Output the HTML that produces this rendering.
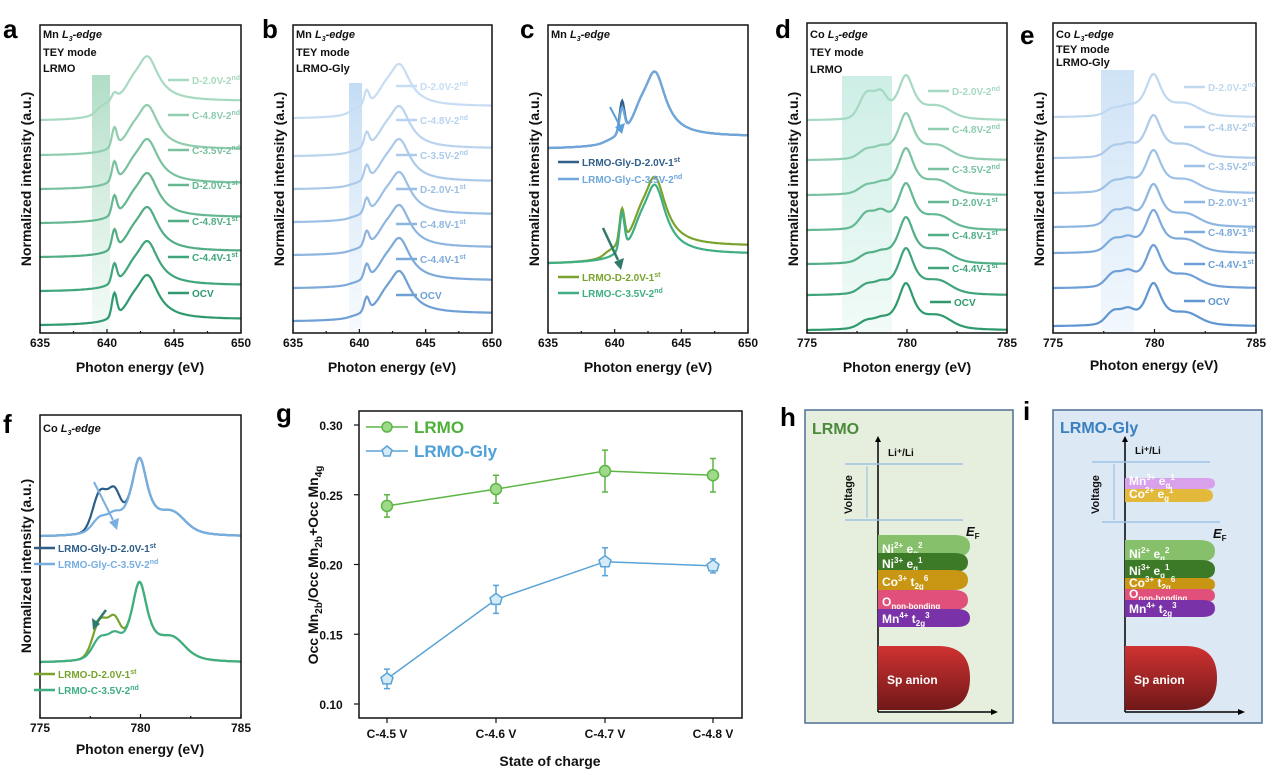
<!DOCTYPE html>
<html><head><meta charset="utf-8"><style>
html,body{margin:0;padding:0;background:#fff;}
svg{display:block;font-family:"Liberation Sans",sans-serif;font-weight:bold;}
</style></head><body>
<svg id="s" width="1274" height="776" viewBox="0 0 1274 776" xmlns="http://www.w3.org/2000/svg">
<defs>
<linearGradient id="ga" x1="0" y1="0" x2="0" y2="1"><stop offset="0" stop-color="#a8d9bf" stop-opacity="0.9"/><stop offset="1" stop-color="#e8f6ee" stop-opacity="0.5"/></linearGradient>
<linearGradient id="gb" x1="0" y1="0" x2="0" y2="1"><stop offset="0" stop-color="#bcd8f2" stop-opacity="0.9"/><stop offset="1" stop-color="#eef5fc" stop-opacity="0.5"/></linearGradient>
<linearGradient id="gd" x1="0" y1="0" x2="0" y2="1"><stop offset="0" stop-color="#cdeee6"/><stop offset="1" stop-color="#f2fbf8"/></linearGradient>
<linearGradient id="ge" x1="0" y1="0" x2="0" y2="1"><stop offset="0" stop-color="#cfe3f6"/><stop offset="1" stop-color="#f2f8fd"/></linearGradient>
<linearGradient id="red" x1="0" y1="0" x2="0" y2="1"><stop offset="0" stop-color="#d03232"/><stop offset="1" stop-color="#701818"/></linearGradient>
</defs>
<rect x="92" y="75" width="18" height="258" fill="url(#ga)"/>
<rect x="349" y="83" width="13" height="250" fill="url(#gb)"/>
<rect x="842" y="76" width="50" height="257" fill="url(#gd)"/>
<rect x="1101" y="70" width="33" height="263" fill="url(#ge)"/>
<g id="curves" fill="none" stroke-width="2.2"></g>
<g fill="none" stroke="#111" stroke-width="1.5">
<rect x="40" y="25" width="201" height="308"/>
<rect x="293" y="25" width="199" height="308"/>
<rect x="548" y="25" width="200" height="308"/>
<rect x="807" y="23" width="200" height="310"/>
<rect x="1053" y="23" width="203" height="310"/>
<rect x="40" y="415" width="201" height="303"/>
<rect x="359" y="411" width="383" height="307"/>
</g>
<g id="ticks" stroke="#111" stroke-width="1.2"></g>
<g font-size="26" fill="#000">
<text x="3" y="38">a</text><text x="262" y="38">b</text><text x="520" y="38">c</text>
<text x="775" y="38">d</text><text x="1020" y="44">e</text>
<text x="3" y="433">f</text><text x="276" y="422">g</text><text x="780" y="426">h</text><text x="1023" y="420">i</text>
</g>
<g font-size="11" fill="#111">
<text x="43" y="38">Mn <tspan font-style="italic">L<tspan font-size="7" dy="3">3</tspan><tspan dy="-3">-edge</tspan></tspan></text>
<text x="43" y="56">TEY mode</text><text x="43" y="72">LRMO</text>
<text x="296" y="38">Mn <tspan font-style="italic">L<tspan font-size="7" dy="3">3</tspan><tspan dy="-3">-edge</tspan></tspan></text>
<text x="296" y="56">TEY mode</text><text x="296" y="72">LRMO-Gly</text>
<text x="551" y="38">Mn <tspan font-style="italic">L<tspan font-size="7" dy="3">3</tspan><tspan dy="-3">-edge</tspan></tspan></text>
<text x="810" y="38">Co <tspan font-style="italic">L<tspan font-size="7" dy="3">3</tspan><tspan dy="-3">-edge</tspan></tspan></text>
<text x="810" y="56">TEY mode</text><text x="810" y="73">LRMO</text>
<text x="1056" y="38">Co <tspan font-style="italic">L<tspan font-size="7" dy="3">3</tspan><tspan dy="-3">-edge</tspan></tspan></text>
<text x="1056" y="53">TEY mode</text><text x="1056" y="66">LRMO-Gly</text>
<text x="43" y="432">Co <tspan font-style="italic">L<tspan font-size="7" dy="3">3</tspan><tspan dy="-3">-edge</tspan></tspan></text>
</g>
<g font-size="14" fill="#111" text-anchor="middle">
<text x="140" y="372">Photon energy (eV)</text>
<text x="392" y="372">Photon energy (eV)</text>
<text x="648" y="372">Photon energy (eV)</text>
<text x="907" y="372">Photon energy (eV)</text>
<text x="1154" y="370">Photon energy (eV)</text>
<text x="140" y="754">Photon energy (eV)</text>
<text x="550" y="766">State of charge</text>
<text transform="translate(31,179) rotate(-90)">Normalized intensity (a.u.)</text>
<text transform="translate(284,179) rotate(-90)">Normalized intensity (a.u.)</text>
<text transform="translate(539,179) rotate(-90)">Normalized intensity (a.u.)</text>
<text transform="translate(798,179) rotate(-90)">Normalized intensity (a.u.)</text>
<text transform="translate(1044,179) rotate(-90)">Normalized intensity (a.u.)</text>
<text transform="translate(31,566) rotate(-90)">Normalized intensity (a.u.)</text>
<text transform="translate(318,565) rotate(-90)">Occ Mn<tspan font-size="10" dy="4">2b</tspan><tspan dy="-4">/Occ Mn</tspan><tspan font-size="10" dy="4">2b</tspan><tspan dy="-4">+Occ Mn</tspan><tspan font-size="10" dy="4">4g</tspan></text>
</g>
<g id="ticklabels" font-size="12" fill="#111" text-anchor="middle"></g>
<g id="labels" font-size="10"></g>
<g id="gplot"></g>
<g font-size="17">
<line x1="366" y1="427" x2="408" y2="427" stroke="#5cb545" stroke-width="1.5"/><circle cx="387" cy="427" r="5" fill="#9fd98a" stroke="#5cb545" stroke-width="1.5"/>
<text x="414" y="433" fill="#4fb03a">LRMO</text>
<line x1="366" y1="451" x2="408" y2="451" stroke="#5aa3d6" stroke-width="1.5"/><polygon points="387,446 392,450 390,456 384,456 382,450" fill="#d6ebf8" stroke="#5aa3d6" stroke-width="1.5"/>
<text x="414" y="457" fill="#4fa0d8">LRMO-Gly</text>
</g>
<rect x="805" y="410" width="208" height="313" fill="#e6efdd" stroke="#4e6f95" stroke-width="1.5"/>
<rect x="1053" y="410" width="209" height="313" fill="#dce8f4" stroke="#4e6f95" stroke-width="1.5"/>
<text x="812" y="434" font-size="16" fill="#4a8a3a">LRMO</text>
<text x="1060" y="433" font-size="16" fill="#3a7fc0">LRMO-Gly</text>
<g id="diag"></g>
</svg>
<script>
const NS="http://www.w3.org/2000/svg";
function el(p,t,a,txt){const e=document.createElementNS(NS,t);for(const k in a)e.setAttribute(k,a[k]);if(txt!=null)e.textContent=txt;document.getElementById(p).appendChild(e);return e;}
const at=Math.atan,PI=Math.PI;
function sq(x){return x*x;}
function G(E,c,w){return Math.exp(-sq((E-c)/w));}
function Lz(E,c,w){return 1/(1+sq((E-c)/w));}
function mn(E,o){o=o||{};const s=o.sharp==null?0.4:o.sharp;
 let v=s*G(E,640.55,0.25)+Lz(E,643,1.0)+0.15*(0.5+at((E-640.2)/0.5)/PI)+0.14*G(E,641.9,0.6);
 if(o.pre)v+=o.pre*(0.5+at((E-639.2)/0.35)/PI);
 return v/1.15;}
function co(E,o){o=o||{};const sh=o.sh==null?0.2:o.sh;
 let v=Lz(E,779.95,0.5)+sh*G(E,778,0.5)+sh*0.8*G(E,778.7,0.4)+0.1*(0.5+at((E-777.5)/0.5)/PI)-0.1*(0.5+at((E-782.8)/0.8)/PI)+0.2*G(E,781.6,0.8);
 return v/1.1;}
function curve(fn,o,E0,E1,x0,x1,base,h,col,w){let d="";const N=240;
 const f0=fn(E0,o);
 for(let i=0;i<=N;i++){const E=E0+(E1-E0)*i/N;const x=x0+(x1-x0)*i/N;const y=base-h*(fn(E,o)-f0);d+=(i?"L":"M")+x.toFixed(1)+","+y.toFixed(1);}
 el("curves","path",{d:d,stroke:col,"stroke-width":w||2.2});}
function lbl(x,y,col,main,sup){el("labels","line",{x1:x-24,y1:y-4,x2:x-3,y2:y-4,stroke:col,"stroke-width":2.5});
 const t=el("labels","text",{x:x,y:y,fill:col});t.textContent=main;if(sup){const s=document.createElementNS(NS,"tspan");s.setAttribute("font-size","7");s.setAttribute("dy","-4");s.textContent=sup;t.appendChild(s);}}
const names=[["OCV",""],["C-4.4V-1","st"],["C-4.8V-1","st"],["D-2.0V-1","st"],["C-3.5V-2","nd"],["C-4.8V-2","nd"],["D-2.0V-2","nd"]];
const ga=["#2e9a6e","#3fa57a","#52ad85","#65b791","#7ac29f","#8fcdae","#a7dac0"];
const baseA=[325,291,257,223,189,155,120];
for(let i=0;i<7;i++){curve(mn,i==6?{pre:0.3,sharp:0.12}:{sharp:i==0?0.5:0.4},635,650,40,241,baseA[i],i==6?52:51,ga[i]);}
const ly=[297,261,225,189,154,119,84];
for(let i=0;i<7;i++)lbl(192,ly[i],ga[i],names[i][0],names[i][1]);
const gb=["#6f9fd4","#7eaadb","#8db5e0","#9cc0e5","#abcaea","#bad4ef","#c6ddf3"];
const baseB=[321,288,255,222,189,156,118];
for(let i=0;i<7;i++){curve(mn,{sharp:0.3,pre:i==6?0.15:0.05},635,650,293,492,baseB[i],49,gb[i]);}
const lyb=[299,263,228,193,159,124,90];
for(let i=0;i<7;i++)lbl(420,lyb[i],gb[i],names[i][0],names[i][1]);
curve(mn,{sharp:0.45,pre:0.05},635,650,548,748,148,75,"#2f5f8a");
curve(mn,{sharp:0.35,pre:0.05},635,650,548,748,148,75,"#6fa6dc");
curve(mn,{sharp:0.45,pre:0.12},635,650,548,748,263,80,"#7aa32e");
curve(mn,{sharp:0.5,pre:0},635,650,548,748,263,80,"#3fae82");
el("labels","line",{x1:610,y1:107,x2:620,y2:126,stroke:"#5a9fd8","stroke-width":2});
el("labels","polygon",{points:"615,127 625,123 622,134",fill:"#5a9fd8"});
el("labels","line",{x1:603,y1:228,x2:618,y2:260,stroke:"#2f7a6a","stroke-width":2.5});
el("labels","polygon",{points:"614,262 624,258 621,270",fill:"#2f7a6a"});
lbl(582,166,"#2f5f8a","LRMO-Gly-D-2.0V-1","st");lbl(582,183,"#6fa6dc","LRMO-Gly-C-3.5V-2","nd");
lbl(582,281,"#7aa32e","LRMO-D-2.0V-1","st");lbl(582,297,"#3fae82","LRMO-C-3.5V-2","nd");
const gd=["#2f9a6c","#40a47a","#52ae86","#64b892","#78c2a0","#8ecdb0","#a6d9c2"];
const baseD=[330,295,264,230,195,160,120];
const shD=[0.12,0.15,0.13,0.3,0.13,0.15,0.55];
for(let i=0;i<7;i++)curve(co,{sh:shD[i]},775,785,807,1007,baseD[i],i==6?46:48,gd[i]);
const lyd=[306,272,239,206,173,133,95];
for(let i=0;i<7;i++)lbl(i==0?954:952,lyd[i],gd[i],names[i][0],names[i][1]);
const ge=["#5e95d2","#6ea0d7","#7eabdc","#8eb6e1","#9ec1e6","#aecbea","#c0d8f0"];
const baseE=[326,288,253,227,193,158,117];
const shE=[0.28,0.28,0.25,0.3,0.2,0.2,0.12];
for(let i=0;i<7;i++)curve(co,{sh:shE[i]},775,785,1053,1256,baseE[i],44,ge[i]);
const lye=[305,268,236,206,170,131,91];
for(let i=0;i<7;i++)lbl(1208,lye[i],ge[i],names[i][0],names[i][1]);
curve(co,{sh:0.5},775,785,40,241,536,80,"#2d5e88");
curve(co,{sh:0.15},775,785,40,241,536,80,"#76aee0");
curve(co,{sh:0.45},775,785,40,241,662,82,"#7aa32e");
curve(co,{sh:0.22},775,785,40,241,662,82,"#3fae82");
el("labels","line",{x1:94,y1:482,x2:113,y2:520,stroke:"#7aaee0","stroke-width":2});
el("labels","polygon",{points:"109,522 119,518 117,530",fill:"#7aaee0"});
el("labels","line",{x1:106,y1:610,x2:97,y2:622,stroke:"#2f7a6a","stroke-width":2.5});
el("labels","polygon",{points:"92,618 100,624 93,630",fill:"#2f7a6a"});
lbl(58,552,"#2d5e88","LRMO-Gly-D-2.0V-1","st");lbl(58,568,"#76aee0","LRMO-Gly-C-3.5V-2","nd");
lbl(58,678,"#7aa32e","LRMO-D-2.0V-1","st");lbl(58,694,"#3fae82","LRMO-C-3.5V-2","nd");
function xt(x0,x1,y,labs){const n=labs.length-1;for(let i=0;i<=n*2;i++){const x=x0+(x1-x0)*i/(2*n);el("ticks","line",{x1:x,y1:y,x2:x,y2:y-(i%2?2:4)});}
 labs.forEach((l,i)=>el("ticklabels","text",{x:x0+(x1-x0)*i/n,y:y+14},l));}
xt(40,241,333,["635","640","645","650"]);xt(293,492,333,["635","640","645","650"]);xt(548,748,333,["635","640","645","650"]);
xt(807,1007,333,["775","780","785"]);xt(1053,1256,333,["775","780","785"]);xt(40,241,718,["775","780","785"]);
const Y=v=>425+(0.30-v)/0.2*279;const X=[387,496,605,713];
["0.30","0.25","0.20","0.15","0.10"].forEach(s=>{const y=Y(+s);el("ticks","line",{x1:359,y1:y,x2:354,y2:y});el("ticklabels","text",{x:331,y:y+5},s);});
["C-4.5 V","C-4.6 V","C-4.7 V","C-4.8 V"].forEach((s,i)=>{el("ticks","line",{x1:X[i],y1:718,x2:X[i],y2:723});el("ticklabels","text",{x:X[i],y:738},s);});
const L=[[0.242,0.008],[0.254,0.010],[0.267,0.015],[0.264,0.012]],B=[[0.118,0.007],[0.175,0.010],[0.202,0.010],[0.199,0.005]];
function series(D,col,fill,pent){el("gplot","path",{d:D.map((p,i)=>(i?"L":"M")+X[i]+","+Y(p[0])).join(""),stroke:col,fill:"none","stroke-width":1.5});
 D.forEach((p,i)=>{const x=X[i];el("gplot","path",{d:"M"+x+","+Y(p[0]+p[1])+"V"+Y(p[0]-p[1])+"M"+(x-3)+","+Y(p[0]+p[1])+"h6M"+(x-3)+","+Y(p[0]-p[1])+"h6",stroke:col,"stroke-width":1.5,fill:"none"});
 const y=Y(p[0]);if(pent)el("gplot","polygon",{points:x+","+(y-6)+" "+(x+6)+","+(y-1.5)+" "+(x+4)+","+(y+5)+" "+(x-4)+","+(y+5)+" "+(x-6)+","+(y-1.5),fill:fill,stroke:col,"stroke-width":1.5});
 else el("gplot","circle",{cx:x,cy:y,r:5.5,fill:fill,stroke:col,"stroke-width":1.5});});}
series(L,"#5cb545","#9fd98a",false);series(B,"#5aa3d6","#d6ebf8",true);
function diag(ax,ll,lr,ytop,ybot,bands,up){
 el("diag","line",{x1:ax,y1:712,x2:ax,y2:440,stroke:"#000","stroke-width":1.5});
 el("diag","polygon",{points:(ax-3)+",442 "+(ax+3)+",442 "+ax+",436",fill:"#000"});
 el("diag","line",{x1:ax,y1:712,x2:ax+115,y2:712,stroke:"#000","stroke-width":1.5});
 el("diag","polygon",{points:(ax+113)+",709 "+(ax+113)+",715 "+(ax+120)+",712",fill:"#000"});
 el("diag","line",{x1:ll,y1:ytop,x2:lr,y2:ytop,stroke:"#9cc2e6","stroke-width":1.5});
 el("diag","line",{x1:ll+(up?10:0),y1:ybot,x2:lr+(up?10:0),y2:ybot,stroke:"#9cc2e6","stroke-width":1.5});
 el("diag","line",{x1:ll+22,y1:ytop+2,x2:ll+22,y2:ybot-2,stroke:"#9cc2e6","stroke-width":1.2});
 el("diag","text",{x:0,y:0,transform:"translate("+(ll+7)+","+((ytop+ybot)/2+22)+") rotate(-90)","font-size":"11",fill:"#111"},"Voltage");
 el("diag","text",{x:ax+10,y:ytop-8,"font-size":"10",fill:"#111"},"Li⁺/Li");
 const t=el("diag","text",{x:lr+3,y:ybot+16,"font-size":"13","font-style":"italic",fill:"#111"},"E");
 const s=document.createElementNS(NS,"tspan");s.setAttribute("font-size","8");s.setAttribute("dy","3");s.setAttribute("font-style","normal");s.textContent="F";t.appendChild(s);
 bands.forEach(b=>{const y0=b[0],h=b[1],c=b[2],w=b[3],txt=b[4],sub=b[5],sup=b[6];const r=h/2;
  el("diag","path",{d:"M"+ax+","+y0+"H"+(ax+w-r*1.5)+"Q"+(ax+w)+","+y0+" "+(ax+w)+","+(y0+r)+"Q"+(ax+w)+","+(y0+h)+" "+(ax+w-r*1.5)+","+(y0+h)+"H"+ax+"Z",fill:c});
  const tt=el("diag","text",{x:ax+4,y:y0+h-4,"font-size":"12",fill:"#fff"},txt);
  if(sup){const a=document.createElementNS(NS,"tspan");a.setAttribute("font-size","8");a.setAttribute("dy","-5");a.textContent=sup[0];tt.appendChild(a);
   const m=document.createElementNS(NS,"tspan");m.setAttribute("dy","5");m.textContent=" "+sup[1];tt.appendChild(m);}
  if(sub){const a=document.createElementNS(NS,"tspan");a.setAttribute("font-size","8");a.setAttribute("dy","3");a.textContent=sub;tt.appendChild(a);}
  if(b[7]){const a=document.createElementNS(NS,"tspan");a.setAttribute("font-size","8");a.setAttribute("dy","-8");a.textContent=b[7];tt.appendChild(a);}
 });
 el("diag","path",{d:"M"+ax+",646H"+(ax+60)+"Q"+(ax+92)+",646 "+(ax+92)+",678Q"+(ax+92)+",710 "+(ax+60)+",710H"+ax+"Z",fill:"url(#red)"});
 el("diag","text",{x:ax+9,y:684,"font-size":"12",fill:"#fff"},"Sp anion");
}
diag(878,845,963,464,520,[
 [535,22,"#86c06a",92,"Ni","g",["2+","e"],"2"],
 [553,19,"#3d7a28",90,"Ni","g",["3+","e"],"1"],
 [570,20,"#c89612",90,"Co","2g",["3+","t"],"6"],
 [590,20,"#e0507a",90,"O","non-bonding",null],
 [609,18,"#7a32a8",92,"Mn","2g",["4+","t"],"3"]]);
diag(1125,1092,1210,462,522,[
 [540,22,"#86c06a",90,"Ni","g",["2+","e"],"2"],
 [560,19,"#3d7a28",90,"Ni","g",["3+","e"],"1"],
 [578,13,"#c89612",90,"Co","2g",["3+","t"],"6"],
 [589,13,"#e0507a",90,"O","non-bonding",null],
 [600,17,"#7a32a8",90,"Mn","2g",["4+","t"],"3"],
 [478,11,"#d9a0ec",90,"Mn","g",["3+","e"],"1"],
 [489,13,"#e2b93a",88,"Co","g",["2+","e"],"1"]],true);
</script>
</body></html>
